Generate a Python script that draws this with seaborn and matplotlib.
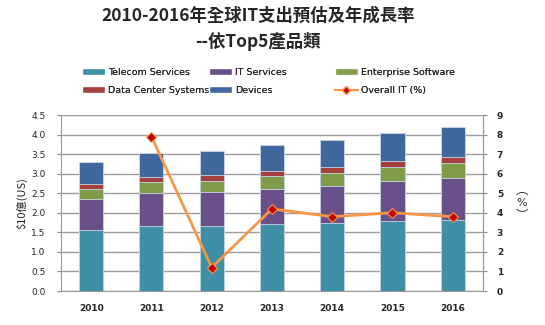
import matplotlib
matplotlib.use("Agg")
import matplotlib.pyplot as plt
import seaborn as sns
import numpy as np
import pandas as pd
from matplotlib.patches import Patch
from matplotlib.lines import Line2D

years = ["2010", "2011", "2012", "2013", "2014", "2015", "2016"]
telecom = [1.56, 1.65, 1.65, 1.71, 1.74, 1.79, 1.81]
it_services = [0.80, 0.86, 0.89, 0.91, 0.95, 1.02, 1.09]
ent_software = [0.25, 0.29, 0.27, 0.31, 0.33, 0.35, 0.37]
data_center = [0.13, 0.12, 0.15, 0.13, 0.14, 0.16, 0.15]
devices = [0.55, 0.61, 0.61, 0.67, 0.71, 0.71, 0.77]
overall_it = [np.nan, 7.9, 1.2, 4.2, 3.8, 4.0, 3.8]

series_names = ["Telecom Services", "IT Services", "Enterprise Software",
                "Data Center Systems", "Devices"]
series_vals = [telecom, it_services, ent_software, data_center, devices]
colors = ["#3F8FA6", "#6A5089", "#7F9C48", "#A5403E", "#40689C"]

sns.set_style("white")
plt.rcParams['font.family'] = ['Noto Sans CJK TC', 'DejaVu Sans']

fig = plt.figure(figsize=(5.45, 3.25), dpi=100)
ax = fig.add_axes([0.112, 0.1046, 0.774, 0.5415])

cum = np.cumsum(np.array(series_vals), axis=0)
for i in range(len(series_names) - 1, -1, -1):
    df = pd.DataFrame({"year": years, "val": cum[i]})
    sns.barplot(data=df, x="year", y="val", color=colors[i], width=0.4,
                saturation=1, edgecolor="#C9D6E6", linewidth=0.6, ax=ax, zorder=2)

ax.set_xlim(-0.5, 6.5)
ax.set_ylim(0, 4.5)
ax.set_yticks(np.arange(0, 4.51, 0.5))
ax.set_yticklabels([f"{v:.1f}" for v in np.arange(0, 4.51, 0.5)], fontsize=6.5,
                   family=['DejaVu Sans'])
ax.set_xticks(range(7))
ax.set_xticklabels(years, fontsize=6.5, fontweight='bold', family=['DejaVu Sans'])
ax.tick_params(axis='x', length=0, pad=9)
ax.set_xticks(np.arange(-0.5, 7, 1), minor=True)
ax.tick_params(axis='x', which='minor', length=3, color='#888888', direction='out')
ax.tick_params(axis='y', length=3, color='#888888', direction='out', pad=8)
ax.grid(axis='y', color='#9E9E9E', linewidth=1.0, zorder=0)
ax.set_axisbelow(True)
ax.set_xlabel("")
ax.set_ylabel("$10億(US)", fontsize=8, labelpad=3)
ax.spines['top'].set_visible(False)
for s in ['left', 'right', 'bottom']:
    ax.spines[s].set_color('#999999')
    ax.spines[s].set_linewidth(0.8)

ax2 = ax.twinx()
ax2.set_ylim(0, 9)
ax2.set_yticks(range(10))
ax2.set_yticklabels([str(v) for v in range(10)], fontsize=6.5, fontweight='bold',
                    family=['DejaVu Sans'])
ax2.tick_params(axis='y', length=3, color='#888888', direction='out', pad=7)
for s in ['top', 'left', 'bottom']:
    ax2.spines[s].set_visible(False)
ax2.spines['right'].set_color('#999999')
ax2.spines['right'].set_linewidth(0.8)
ldf = pd.DataFrame({"x": np.arange(7), "y": overall_it}).dropna()
sns.lineplot(data=ldf, x="x", y="y", ax=ax2, color="#F79646", linewidth=2,
             marker="D", markersize=5, markerfacecolor="#C00000",
             markeredgecolor="#F79646", markeredgewidth=0.8)
ax2.set_xlim(-0.5, 6.5)
ax2.set_xlabel("")
ax2.set_ylabel("")

# right axis label: vertical "(%)" using vertical presentation forms
fig.text(522 / 545, 1 - 190 / 325, "︵", ha='center', va='center', fontsize=9,
         family=['Noto Sans CJK TC'])
fig.text(522 / 545, 1 - 203 / 325, "%", ha='center', va='center', fontsize=8,
         family=['DejaVu Sans'])
fig.text(522 / 545, 1 - 216 / 325, "︶", ha='center', va='center', fontsize=9,
         family=['Noto Sans CJK TC'])

fig.text(258 / 545, 1 - 16 / 325, "2010-2016年全球IT支出預估及年成長率", ha='center',
         va='center', fontsize=12.5, fontweight='bold')
fig.text(258 / 545, 1 - 41 / 325, "--依Top5產品類", ha='center', va='center',
         fontsize=12.5, fontweight='bold')

col_handles = [
    [Patch(facecolor=colors[0]), Patch(facecolor=colors[3])],
    [Patch(facecolor=colors[1]), Patch(facecolor=colors[4])],
    [Patch(facecolor=colors[2]),
     Line2D([0], [0], color="#F79646", lw=1.5, marker="D", markersize=4,
            markerfacecolor="#C00000", markeredgecolor="#F79646")],
]
col_labels = [
    [series_names[0], series_names[3]],
    [series_names[1], series_names[4]],
    [series_names[2], "Overall IT (%)"],
]
col_x = [84, 211, 337]
for hs, ls, x in zip(col_handles, col_labels, col_x):
    leg = fig.legend(hs, ls, loc='upper left',
                     bbox_to_anchor=((x - 2) / 545, 1 - 68 / 325),
                     frameon=False, handlelength=2.4, handleheight=0.7,
                     handletextpad=0.35, labelspacing=0.95, borderpad=0,
                     borderaxespad=0, prop={'family': ['DejaVu Sans'], 'size': 6.8})
    fig.add_artist(leg)

fig.savefig("out.png", dpi=100)
